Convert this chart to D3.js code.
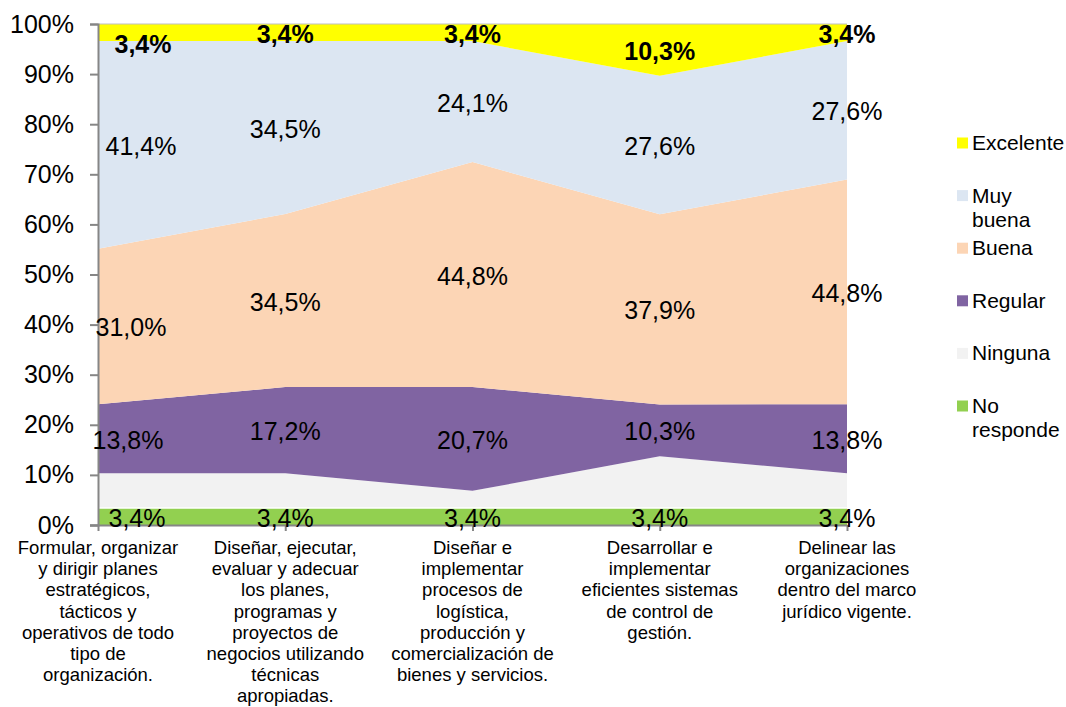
<!DOCTYPE html>
<html>
<head>
<meta charset="utf-8">
<script src="https://cdn.jsdelivr.net/npm/d3@7"></script>
<style>
  html,body{margin:0;padding:0;background:#fff;}
  svg{display:block;font-family:"Liberation Sans",Arial,sans-serif;}
</style>
</head>
<body>
<svg id="chart" width="1066" height="707"></svg>
<script>
'use strict';

/* ── data ───────────────────────────────────── */
const CATEGORIES = [
  ['Formular, organizar','y dirigir planes','estratégicos,','tácticos y','operativos de todo','tipo de','organización.'],
  ['Diseñar, ejecutar,','evaluar y adecuar','los planes,','programas y','proyectos de','negocios utilizando','técnicas','apropiadas.'],
  ['Diseñar e','implementar','procesos de','logística,','producción y','comercialización de','bienes y servicios.'],
  ['Desarrollar e','implementar','eficientes sistemas','de control de','gestión.'],
  ['Delinear las','organizaciones','dentro del marco','jurídico vigente.']
];

const SERIES = ['No responde','Ninguna','Regular','Buena','Muy buena','Excelente'];
const NO_RESPONDE = [3.4, 3.4, 3.4, 3.4, 3.4];
const NINGUNA     = [6.9, 6.9, 3.4, 10.3, 6.9];
const REGULAR     = [13.8, 17.2, 20.7, 10.3, 13.8];
const BUENA       = [31.0, 34.5, 44.8, 37.9, 44.8];
const MUY_BUENA   = [41.4, 34.5, 24.1, 27.6, 27.6];
const EXCELENTE   = [3.4, 3.4, 3.4, 10.3, 3.4];

const Y_TICKS = [0,10,20,30,40,50,60,70,80,90,100];
const LEGEND_ORDER = ['Excelente','Muy buena','Buena','Regular','Ninguna','No responde'];
// series whose values are printed on the chart
const LABELLED = ['No responde','Regular','Buena','Muy buena','Excelente'];

/* ── style ──────────────────────────────────── */
const COLORS = {
  'No responde':'#92D050',
  'Ninguna':'#F2F2F2',
  'Regular':'#8064A2',
  'Buena':'#FCD5B5',
  'Muy buena':'#DCE6F2',
  'Excelente':'#FFFF00'
};
const LEGEND_LABEL = {'Muy buena':['Muy','buena'],'No responde':['No','responde']};
// first column labels sit a bit inside the plot
const FIRST_DX = {'No responde':39,'Ninguna':38,'Regular':30,'Buena':33,'Muy buena':43,'Excelente':45};

const M = {left:98, right:847, top:24, bottom:525};

const svg = d3.select('#chart');

const cols = [NO_RESPONDE,NINGUNA,REGULAR,BUENA,MUY_BUENA,EXCELENTE];
const rows = CATEGORIES.map((c,i)=>{
  const r = {idx:i};
  SERIES.forEach((s,j)=>{ r[s]=cols[j][i]; });
  return r;
});

const stack = d3.stack().keys(SERIES).offset(d3.stackOffsetExpand);
const layers = stack(rows);

const x = d3.scalePoint().domain(d3.range(CATEGORIES.length)).range([M.left,M.right]);
const y = d3.scaleLinear().domain([0,1]).range([M.bottom,M.top]);

const area = d3.area()
  .x(d=>x(d.data.idx))
  .y0(d=>y(d[0]))
  .y1(d=>y(d[1]));

svg.append('g').selectAll('path')
  .data(layers)
  .enter()
  .append('path')
  .attr('d',area)
  .attr('fill',d=>COLORS[d.key]);

// thin white edge on top of the green band
const topLine = d3.line().x(d=>x(d.data.idx)).y(d=>y(d[1]));
svg.append('path')
  .attr('d',topLine(layers[0]))
  .attr('fill','none')
  .attr('stroke','#fff')
  .attr('stroke-width',1.5);

// top border
svg.append('line')
  .attr('x1',M.left).attr('x2',M.right)
  .attr('y1',M.top).attr('y2',M.top)
  .attr('stroke','#BFBFBF').attr('stroke-width',1);

/* ── axes ───────────────────────────────────── */
const yAxis = d3.axisLeft(d3.scaleLinear().domain([0,100]).range([M.bottom,M.top]))
  .tickValues(Y_TICKS)
  .tickSize(8)
  .tickPadding(16)
  .tickFormat(d=>d+'%');

const gy = svg.append('g').attr('transform',`translate(${M.left},0)`).call(yAxis);
gy.select('.domain').attr('stroke','#868686').attr('stroke-width',2);
gy.selectAll('.tick line').attr('stroke','#868686').attr('stroke-width',2);
gy.selectAll('.tick text')
  .attr('font-size',25)
  .attr('fill','#000')
  .attr('font-family','"Liberation Sans",Arial,sans-serif');

const xAxis = d3.axisBottom(x).tickSize(6).tickFormat('');
const gx = svg.append('g').attr('transform',`translate(0,${M.bottom})`).call(xAxis);
gx.select('.domain').attr('d',`M${M.left-8},0.5H${M.right}`).attr('stroke','#868686').attr('stroke-width',2);
gx.selectAll('.tick line').attr('stroke','#868686').attr('stroke-width',2);

/* ── category labels ────────────────────────── */
const catG = svg.append('g')
  .attr('font-size',18.5)
  .attr('text-anchor','middle')
  .attr('fill','#000');

CATEGORIES.forEach((lines,i)=>{
  const t = catG.append('text')
    .attr('x',x(i))
    .attr('y',554);
  lines.forEach((ln,k)=>{
    t.append('tspan')
      .attr('x',x(i))
      .attr('dy',k===0?0:21.2)
      .text(ln);
  });
});

/* ── data labels ────────────────────────────── */
const fmt = v=>v.toFixed(1).replace('.',',')+'%';
const lblG = svg.append('g').attr('font-size',25).attr('text-anchor','middle').attr('fill','#000');

layers.filter(l=>LABELLED.includes(l.key)).forEach(layer=>{
  layer.forEach((d,i)=>{
    const val = d.data[layer.key];
    let by = y((d[0]+d[1])/2)+10;
    let bx = x(i);
    if(i===0) bx = M.left+FIRST_DX[layer.key];
    if(layer.key==='Excelente'){
      by = Math.max(by, i===0?53:43);
    }
    if(layer.key==='No responde') by = y((d[0]+d[1])/2)+11;
    lblG.append('text')
      .attr('x',bx)
      .attr('y',by)
      .attr('font-weight',layer.key==='Excelente'?'bold':'normal')
      .text(fmt(val));
  });
});

/* ── legend ─────────────────────────────────── */
const leg = svg.append('g').attr('font-size',21).attr('fill','#000');
LEGEND_ORDER.forEach((name,i)=>{
  const cy = 143+i*52.6;
  leg.append('rect')
    .attr('x',957).attr('y',cy-5.5)
    .attr('width',11).attr('height',11)
    .attr('fill',COLORS[name]);
  const lines = LEGEND_LABEL[name]||[name];
  const t = leg.append('text').attr('x',972).attr('y',cy+7);
  lines.forEach((ln,k)=>{
    t.append('tspan').attr('x',972).attr('dy',k===0?0:24).text(ln);
  });
});
</script>
</body>
</html>
